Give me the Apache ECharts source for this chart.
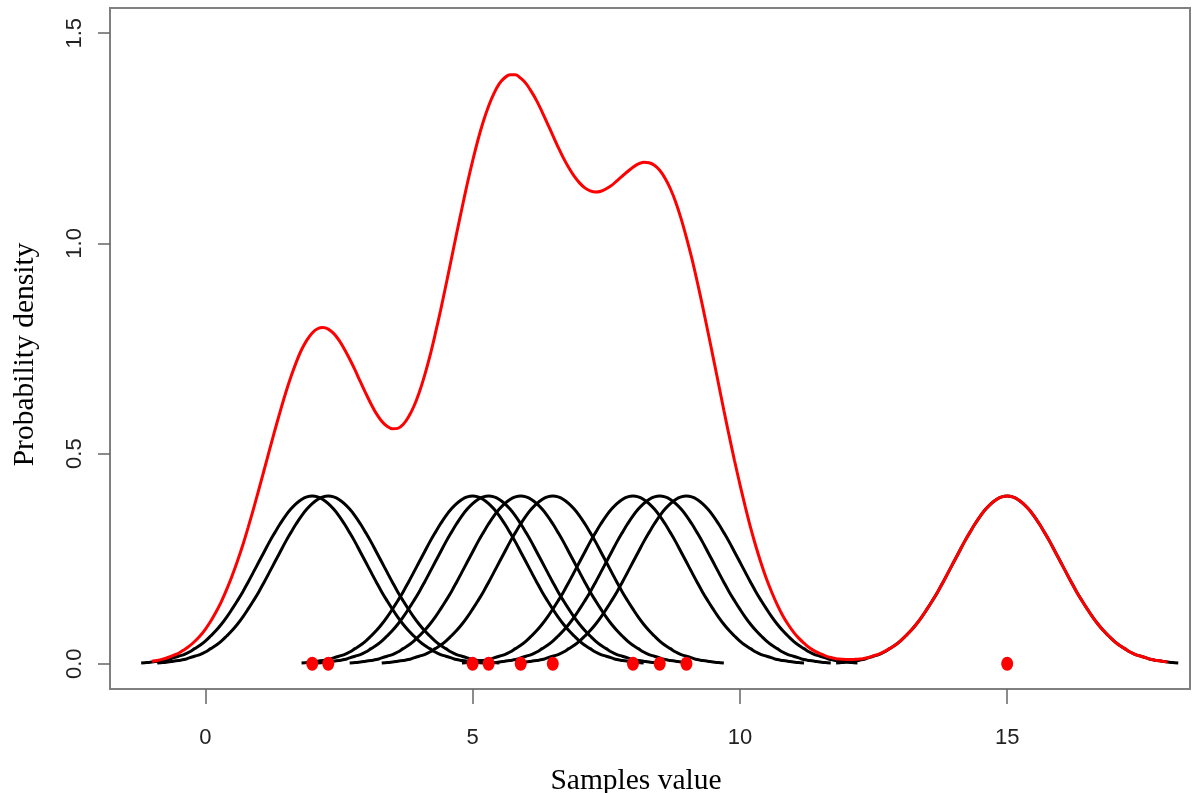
<!DOCTYPE html>
<html>
<head>
<meta charset="utf-8">
<script src="https://cdn.jsdelivr.net/npm/echarts@6/dist/echarts.min.js"></script>
<style>
html,body{margin:0;padding:0;background:#fff;}
#chart{width:1200px;height:793px;}
</style>
</head>
<body>
<div id="chart"></div>
<script>
// Sample points (red dots on the baseline)
const samples = [2, 2.3, 5, 5.3, 5.9, 6.5, 8, 8.5, 9, 15];
const sampleBase = [0, 0, 0, 0, 0, 0, 0, 0, 0, 0];

// Shape of one black kernel bump (offset from its sample, density)
const kernelOffsets = [-3.2,-3.1,-3.0,-2.9,-2.8,-2.7,-2.6,-2.5,-2.4,-2.3,-2.2,-2.1,-2.0,-1.9,-1.8,-1.7,-1.6,-1.5,-1.4,-1.3,-1.2,-1.1,-1.0,-0.9,-0.8,-0.7,-0.6,-0.5,-0.4,-0.3,-0.2,-0.1,0,
  0.1,0.2,0.3,0.4,0.5,0.6,0.7,0.8,0.9,1.0,1.1,1.2,1.3,1.4,1.5,1.6,1.7,1.8,1.9,2.0,2.1,2.2,2.3,2.4,2.5,2.6,2.7,2.8,2.9,3.0,3.1,3.2];
const kernelDensity = [0.002,0.003,0.004,0.006,0.008,0.010,0.014,0.018,0.022,0.028,0.036,0.044,0.054,0.066,0.079,0.094,0.111,0.130,0.150,0.171,0.194,0.218,0.242,0.266,0.290,0.312,0.333,0.352,0.368,0.381,0.391,0.397,0.399,
  0.397,0.391,0.381,0.368,0.352,0.333,0.312,0.290,0.266,0.242,0.218,0.194,0.171,0.150,0.130,0.111,0.094,0.079,0.066,0.054,0.044,0.036,0.028,0.022,0.018,0.014,0.010,0.008,0.006,0.004,0.003,0.002];

// Red total density curve
const densityX = [
  -1.0,-0.9,-0.8,-0.7,-0.6,-0.5,-0.4,-0.3,-0.2,-0.1,
  0.0,0.1,0.2,0.3,0.4,0.5,0.6,0.7,0.8,0.9,
  1.0,1.1,1.2,1.3,1.4,1.5,1.6,1.7,1.8,1.9,
  2.0,2.1,2.2,2.3,2.4,2.5,2.6,2.7,2.8,2.9,
  3.0,3.1,3.2,3.3,3.4,3.5,3.6,3.7,3.8,3.9,
  4.0,4.1,4.2,4.3,4.4,4.5,4.6,4.7,4.8,4.9,
  5.0,5.1,5.2,5.3,5.4,5.5,5.6,5.7,5.8,5.9,
  6.0,6.1,6.2,6.3,6.4,6.5,6.6,6.7,6.8,6.9,
  7.0,7.1,7.2,7.3,7.4,7.5,7.6,7.7,7.8,7.9,
  8.0,8.1,8.2,8.3,8.4,8.5,8.6,8.7,8.8,8.9,
  9.0,9.1,9.2,9.3,9.4,9.5,9.6,9.7,9.8,9.9,
  10.0,10.1,10.2,10.3,10.4,10.5,10.6,10.7,10.8,10.9,
  11.0,11.1,11.2,11.3,11.4,11.5,11.6,11.7,11.8,11.9,
  12.0,12.1,12.2,12.3,12.4,12.5,12.6,12.7,12.8,12.9,
  13.0,13.1,13.2,13.3,13.4,13.5,13.6,13.7,13.8,13.9,
  14.0,14.1,14.2,14.3,14.4,14.5,14.6,14.7,14.8,14.9,
  15.0,15.1,15.2,15.3,15.4,15.5,15.6,15.7,15.8,15.9,
  16.0,16.1,16.2,16.3,16.4,16.5,16.6,16.7,16.8,16.9,
  17.0,17.1,17.2,17.3,17.4,17.5,17.6,17.7,17.8,17.9,
  18.0];
const densityY = [
  0.006,0.008,0.011,0.015,0.020,0.025,0.033,0.042,0.053,0.066,
  0.082,0.101,0.123,0.148,0.177,0.209,0.244,0.282,0.324,0.368,
  0.414,0.461,0.508,0.555,0.600,0.643,0.682,0.717,0.747,0.770,
  0.787,0.797,0.800,0.796,0.786,0.770,0.749,0.725,0.699,0.671,
  0.644,0.618,0.595,0.577,0.565,0.559,0.560,0.569,0.587,0.612,
  0.645,0.685,0.731,0.784,0.840,0.900,0.961,1.023,1.083,1.142,
  1.196,1.246,1.290,1.327,1.357,1.380,1.394,1.401,1.401,1.393,
  1.380,1.361,1.339,1.313,1.285,1.257,1.229,1.203,1.180,1.160,
  1.144,1.132,1.125,1.122,1.124,1.130,1.138,1.149,1.160,1.171,
  1.181,1.189,1.193,1.192,1.186,1.174,1.155,1.130,1.098,1.059,
  1.014,0.965,0.910,0.852,0.791,0.729,0.666,0.603,0.542,0.483,
  0.427,0.374,0.324,0.279,0.238,0.201,0.169,0.140,0.115,0.094,
  0.076,0.061,0.049,0.038,0.030,0.024,0.019,0.015,0.012,0.011,
  0.010,0.010,0.011,0.012,0.015,0.019,0.023,0.029,0.036,0.044,
  0.054,0.066,0.079,0.094,0.111,0.130,0.150,0.171,0.194,0.218,
  0.242,0.266,0.290,0.312,0.333,0.352,0.368,0.381,0.391,0.397,
  0.399,0.397,0.391,0.381,0.368,0.352,0.333,0.312,0.290,0.266,
  0.242,0.218,0.194,0.171,0.150,0.130,0.111,0.094,0.079,0.066,
  0.054,0.044,0.036,0.028,0.022,0.018,0.014,0.010,0.008,0.006,
  0.004];

// Tick labels and titles
const xTicks = [0, 5, 10, 15];
const yTicks = [0, 0.5, 1.0, 1.5];
const xTitle = 'Samples value';
const yTitle = 'Probability density';

const chart = echarts.init(document.getElementById('chart'), null, {renderer: 'canvas'});

const series = [];
samples.forEach(function (s, i) {
  series.push({
    type: 'line',
    name: 'kernel' + i,
    data: kernelOffsets.map(function (o, j) { return [s + o, kernelDensity[j]]; }),
    showSymbol: false,
    smooth: 0.4,
    lineStyle: {color: '#000000', width: 3},
    z: 2,
    silent: true
  });
});
series.push({
  type: 'line',
  name: 'density',
  data: densityX.map(function (x, j) { return [x, densityY[j]]; }),
  showSymbol: false,
  smooth: 0.3,
  lineStyle: {color: '#ff0000', width: 3},
  z: 3,
  silent: true
});
series.push({
  type: 'scatter',
  name: 'samples',
  data: samples.map(function (s, i) { return [s, sampleBase[i]]; }),
  symbol: 'circle',
  symbolSize: [12, 14],
  itemStyle: {color: '#ff0000', opacity: 1},
  z: 4,
  silent: true
});

const labelFont = {fontFamily: '"Liberation Sans", Arial, sans-serif', fontSize: 22, color: '#222222'};
const titleFont = {fontFamily: '"Liberation Serif", "Times New Roman", serif', fontSize: 29.5, color: '#000000'};

chart.setOption({
  animation: false,
  backgroundColor: '#ffffff',
  grid: {
    left: 110, right: 10, top: 8, bottom: 104,
    containLabel: false,
    outerBoundsMode: 'none',
    show: true, borderColor: '#808080', borderWidth: 2, backgroundColor: 'transparent'
  },
  xAxis: {
    type: 'value',
    min: -1.783, max: 18.42,
    axisLine: {show: false, onZero: false},
    splitLine: {show: false},
    axisTick: {show: true, inside: false, length: 15, customValues: xTicks, lineStyle: {color: '#666666', width: 1.5}},
    axisLabel: Object.assign({show: true, customValues: xTicks, margin: 38, formatter: function (v) { return String(v); }}, labelFont),
    name: xTitle,
    nameLocation: 'middle',
    nameGap: 77,
    nameTextStyle: Object.assign({padding: [0, 28, 0, 0]}, titleFont)
  },
  yAxis: {
    type: 'value',
    min: -0.06, max: 1.56,
    axisLine: {show: false, onZero: false},
    splitLine: {show: false},
    axisTick: {show: true, inside: false, length: 12, customValues: yTicks, lineStyle: {color: '#666666', width: 1.5}},
    axisLabel: Object.assign({show: true, customValues: yTicks, rotate: 90, margin: 24, formatter: function (v) { return v.toFixed(1); }}, labelFont),
    name: yTitle,
    nameLocation: 'middle',
    nameGap: 70,
    nameTextStyle: Object.assign({padding: [0, 12, 0, 0]}, titleFont)
  },
  series: series
});
</script>
</body>
</html>
